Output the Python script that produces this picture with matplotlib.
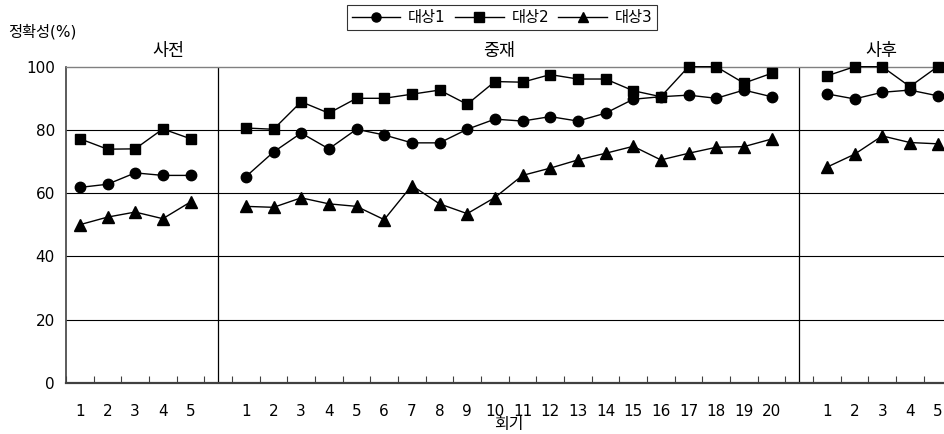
import numpy as np
import matplotlib
matplotlib.use("Agg")
import matplotlib.pyplot as plt
from matplotlib.lines import Line2D

plt.rcParams['font.family'] = ['DejaVu Sans', 'Noto Sans CJK KR']

# ---------------- data ----------------
phases = ['사전', '중재', '사후']
pre_sessions = [1, 2, 3, 4, 5]
int_sessions = list(range(1, 21))
post_sessions = [1, 2, 3, 4, 5]

s1_pre = [61.8, 62.8, 66.4, 65.6, 65.6]
s2_pre = [77.2, 73.9, 74.0, 80.3, 77.2]
s3_pre = [50.0, 52.4, 54.0, 51.9, 57.2]

s1_int = [65.2, 73.0, 79.0, 74.0, 80.2, 78.4, 75.9, 75.9, 80.2, 83.4,
          82.8, 84.2, 82.8, 85.3, 89.7, 90.5, 91.0, 90.0, 92.6, 90.5]
s2_int = [80.6, 80.2, 88.9, 85.3, 90.0, 90.0, 91.3, 92.6, 88.1, 95.3,
          95.1, 97.5, 96.1, 96.1, 92.4, 90.5, 100.0, 100.0, 94.8, 97.9]
s3_int = [55.8, 55.5, 58.5, 56.6, 55.8, 51.6, 62.4, 56.6, 53.5, 58.6,
          65.6, 67.9, 70.5, 72.6, 74.8, 70.5, 72.6, 74.5, 74.7, 77.1]

s1_post = [91.4, 89.8, 91.9, 92.6, 90.8]
s2_post = [97.1, 100.0, 100.0, 93.7, 100.0]
s3_post = [68.2, 72.3, 78.1, 76.0, 75.6]

series_names = ['대상1', '대상2', '대상3']
markers = ['o', 's', '^']
y_ticks = [0, 20, 40, 60, 80, 100]

# ---------------- positions (category axis with one empty slot between phases) ----
x_pre = np.arange(1, len(pre_sessions) + 1)
x_int = x_pre[-1] + 1 + np.arange(1, len(int_sessions) + 1)
x_post = x_int[-1] + 1 + np.arange(1, len(post_sessions) + 1)
sep1 = x_pre[-1] + 1
sep2 = x_int[-1] + 1
n_cat = x_post[-1]

W, H = 945, 434
fig = plt.figure(figsize=(W / 100, H / 100), dpi=100)
ax_left, ax_right = 66, 951.4
ax_bot, ax_top = 382.7, 66.7
ax = fig.add_axes([ax_left / W, (H - ax_bot) / H, (ax_right - ax_left) / W, (ax_bot - ax_top) / H])

ax.set_xlim(0.5, n_cat + 0.5)
ax.set_ylim(0, 100)

# grid lines and phase separators
ax.hlines([v for v in y_ticks if 0 < v < 100], 0.5, n_cat + 0.5, color='black', lw=0.8, zorder=1)
ax.vlines([sep1, sep2], 0, 100, color='black', lw=0.9, zorder=1)

data = [
    (x_pre, [s1_pre, s2_pre, s3_pre]),
    (x_int, [s1_int, s2_int, s3_int]),
    (x_post, [s1_post, s2_post, s3_post]),
]
for xs, ys in data:
    for y, m in zip(ys, markers):
        ax.plot(xs, y, color='black', lw=1.0, marker=m,
                markersize=7.5 if m != '^' else 8, markerfacecolor='black',
                markeredgecolor='black', zorder=3, clip_on=False)

# ticks
all_x = list(x_pre) + list(x_int) + list(x_post)
all_labels = [str(s) for s in pre_sessions + int_sessions + post_sessions]
ax.set_xticks(all_x)
ax.set_xticklabels(all_labels, fontsize=11)
ax.set_xticks(np.arange(0.5, n_cat + 1, 1), minor=True)
ax.tick_params(axis='x', which='major', length=0, pad=15)
ax.tick_params(axis='x', which='minor', direction='in', length=5, width=0.8, color='#404040')
ax.set_yticks(y_ticks)
ax.set_yticklabels([str(v) for v in y_ticks], fontsize=11)
ax.tick_params(axis='y', length=0, pad=8)

ax.set_xlabel('회기', fontsize=11.5, labelpad=-1)

ax.spines['right'].set_visible(False)
ax.spines['top'].set_color('#808080')
ax.spines['top'].set_linewidth(1.0)
ax.spines['left'].set_color('#404040')
ax.spines['left'].set_linewidth(1.2)
ax.spines['bottom'].set_color('#404040')
ax.spines['bottom'].set_linewidth(1.6)

# y title and phase labels
fig.text(8 / W, 1 - 32 / H, '정확성(%)', fontsize=11, ha='left', va='center')
for name, px in zip(phases, [168, 499, 881]):
    fig.text(px / W, 1 - 51 / H, name, fontsize=12.5, ha='center', va='center')

# legend
handles = [Line2D([0], [0], color='black', lw=1.0, marker=m, markersize=6.5,
                  markerfacecolor='black', markeredgecolor='black') for m in markers]
leg = fig.legend(handles, series_names, loc='center left', bbox_to_anchor=(347 / W, 1 - 17.5 / H),
                 ncol=3, frameon=True, fancybox=False, edgecolor='black', fontsize=11,
                 handlelength=3.2, handletextpad=0.5, columnspacing=0.6, borderpad=0.3,
                 borderaxespad=0)
leg.get_frame().set_linewidth(0.8)

fig.savefig('out.png', dpi=100)
